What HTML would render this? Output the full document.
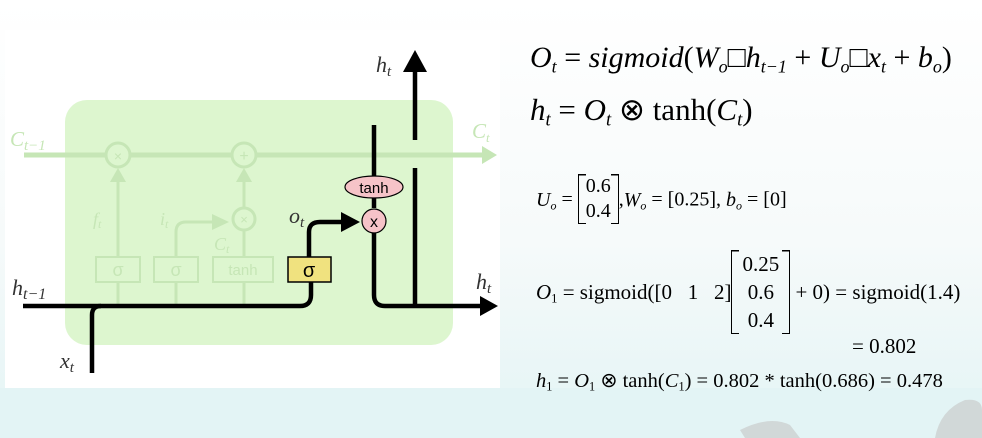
<!DOCTYPE html>
<html><head><meta charset="utf-8"><style>
html,body{margin:0;padding:0;}
body{width:982px;height:438px;position:relative;overflow:hidden;background:linear-gradient(#ffffff 0%,#f6fafa 55%,#e3f4f5 100%);font-family:"Liberation Serif",serif;}
.t{position:absolute;white-space:nowrap;color:#000;}
i{font-style:italic}
sub{font-size:60%;vertical-align:-0.3em}
.bk{display:inline-block;vertical-align:middle;text-align:center;position:relative;top:-2px;border-left:1.5px solid #000;border-right:1.5px solid #000;
background:linear-gradient(#000,#000) top left/7px 1.5px no-repeat,linear-gradient(#000,#000) top right/7px 1.5px no-repeat,linear-gradient(#000,#000) bottom left/7px 1.5px no-repeat,linear-gradient(#000,#000) bottom right/7px 1.5px no-repeat;}
</style></head><body>
<div style="position:absolute;left:0;top:388px;width:982px;height:50px;background:#e3f4f5"></div>
<svg style="position:absolute;left:0;top:0" width="982" height="438">
<rect x="5" y="30" width="495" height="358" fill="#fff"/>
<rect x="65" y="100" width="388" height="245" rx="22" fill="#ddf6cf"/>
<g stroke="#c6e6b6" fill="none" stroke-width="3">
<line x1="24" y1="155" x2="482" y2="155" stroke-width="5"/>
<polygon points="482,146 497,155 482,164" fill="#c6e6b6" stroke="none"/>
<circle cx="118" cy="155" r="12" fill="#ddf6cf"/><circle cx="244" cy="155" r="12" fill="#ddf6cf"/>
<line x1="118" y1="257" x2="118" y2="182"/><polygon points="110,182 118,168 126,182" fill="#c6e6b6" stroke="none"/>
<line x1="244" y1="213" x2="244" y2="182"/><polygon points="236,182 244,168 252,182" fill="#c6e6b6" stroke="none"/>
<circle cx="244" cy="219" r="11" fill="#ddf6cf"/>
<path d="M176 257 V232 Q176 222 186 222 H215"/><polygon points="212,214 229,222 212,230" fill="#c6e6b6" stroke="none"/>
<line x1="118" y1="282" x2="118" y2="306"/><line x1="176" y1="282" x2="176" y2="306"/><line x1="244" y1="282" x2="244" y2="306"/><line x1="244" y1="257" x2="244" y2="230"/>
<rect x="96" y="257" width="44" height="25" stroke-width="2"/><rect x="154" y="257" width="44" height="25" stroke-width="2"/><rect x="213" y="257" width="60" height="25" stroke-width="2"/>
</g>
<g font-family="Liberation Sans" fill="#c6e6b6" font-size="18" text-anchor="middle">
<text x="118" y="276">σ</text><text x="176" y="276">σ</text><text x="243" y="275" font-size="15">tanh</text>
<text x="118" y="161" font-size="14">×</text><text x="244" y="161" font-size="16">+</text><text x="244" y="224" font-size="13">×</text>
</g>
<g font-family="Liberation Serif" font-style="italic" fill="#c6e6b6" font-size="21">
<text x="10" y="146">C<tspan font-size="15" dy="4">t−1</tspan></text><text x="472" y="138">C<tspan font-size="13" dy="4">t</tspan></text>
<text x="93" y="225" font-size="18">f<tspan font-size="12" dy="3">t</tspan></text><text x="160" y="225" font-size="18">i<tspan font-size="12" dy="3">t</tspan></text><text x="214" y="250" font-size="18">C<tspan font-size="12" dy="3">t</tspan></text>
</g>
<g stroke="#000" fill="none" stroke-width="4.5">
<path d="M23 306 H300 Q311 306 311 295 V282"/>
<path d="M92 373 V315 Q92 306 101 306"/>
<path d="M309 257 V232 Q309 222 320 222 H345"/>
<path d="M374 125 V208"/><path d="M374 233 V295 Q374 306 385 306 H482"/>
<path d="M415 306 V168"/><path d="M415 140 V68"/>
</g>
<polygon points="341,212 360,222 341,232" fill="#000"/>
<polygon points="480,296 498,306 480,316" fill="#000"/>
<polygon points="403,72 415,50 427,72" fill="#000"/>
<rect x="288" y="257" width="43" height="25" fill="#f0e27f" stroke="#000" stroke-width="1.5"/>
<text x="309" y="277" font-family="Liberation Sans" font-size="20" text-anchor="middle">σ</text>
<ellipse cx="374" cy="187" rx="29" ry="11" fill="#f6c3c8" stroke="#000" stroke-width="1.2"/>
<text x="374" y="193" font-family="Liberation Sans" font-size="15" text-anchor="middle">tanh</text>
<circle cx="374" cy="221" r="12" fill="#f6c3c8" stroke="#000" stroke-width="1.2"/>
<text x="374" y="227" font-family="Liberation Sans" font-size="16" text-anchor="middle">x</text>
<g font-family="Liberation Serif" font-style="italic" font-size="22" fill="#333">
<text x="376" y="72">h<tspan font-size="15" dy="4">t</tspan></text>
<text x="12" y="295">h<tspan font-size="16" dy="4">t−1</tspan></text>
<text x="476" y="289">h<tspan font-size="15" dy="4">t</tspan></text>
<text x="60" y="368">x<tspan font-size="15" dy="4">t</tspan></text>
<text x="289" y="223">o<tspan font-size="15" dy="4">t</tspan></text>
</g>
<path d="M740 430 Q770 415 790 425 L800 438 L745 438 Z M935 438 Q940 410 965 400 Q982 398 982 410 L982 438 Z" fill="#c9cccc" opacity="0.7"/>
</svg>
<div class="t" style="left:530px;top:41px;font-size:30px"><i>O<sub>t</sub></i> = <i>sigmoid</i>(<i>W<sub>o</sub></i>□<i>h<sub>t−1</sub></i> + <i>U<sub>o</sub></i>□<i>x<sub>t</sub></i> + <i>b<sub>o</sub></i>)</div>
<div class="t" style="left:530px;top:92px;font-size:31px"><i>h<sub>t</sub></i> = <i>O<sub>t</sub></i> ⊗ tanh(<i>C<sub>t</sub></i>)</div>
<div class="t" style="left:536px;top:176px;font-size:20px"><i>U<sub>o</sub></i> = <span class="bk" style="padding:0 7px;line-height:25px">0.6<br>0.4</span>,<i>W<sub>o</sub></i> = [0.25], <i>b<sub>o</sub></i> = [0]</div>
<div class="t" style="left:536px;top:252px;font-size:21px"><i>O</i><sub>1</sub> = sigmoid([0 &nbsp; 1 &nbsp; 2]<span class="bk" style="padding:0 10px;line-height:28px">0.25<br>0.6<br>0.4</span> + 0) = sigmoid(1.4)</div>
<div class="t" style="left:852px;top:334px;font-size:21px">= 0.802</div>
<div class="t" style="left:536px;top:368px;font-size:20.5px"><i>h</i><sub>1</sub> = <i>O</i><sub>1</sub> ⊗ tanh(<i>C</i><sub>1</sub>) = 0.802 * tanh(0.686) = 0.478</div>
</body></html>
